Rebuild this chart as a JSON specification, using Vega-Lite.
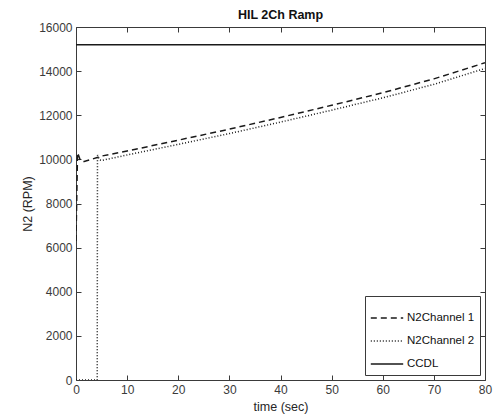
{
  "$schema": "https://vega.github.io/schema/vega-lite/v6.json",
  "autosize": {"type": "none"},
  "padding": {"left": 76, "top": 27, "right": 19, "bottom": 39},
  "width": 409,
  "height": 353,
  "background": "white",
  "config": {
    "font": "Liberation Sans",
    "view": {"stroke": "#3a3a3a", "strokeWidth": 1},
    "axis": {
      "grid": false,
      "domain": false,
      "tickColor": "#3a3a3a",
      "tickSize": -5,
      "labelPadding": 9,
      "labelFlush": false,
      "labelFontSize": 12,
      "labelColor": "#3a3a3a",
      "format": "d",
      "titleFontSize": 12.5,
      "titleFontWeight": "normal",
      "titleColor": "#262626"
    }
  },
  "title": {
    "text": "HIL 2Ch Ramp",
    "fontSize": 12.5,
    "fontWeight": "bold",
    "color": "#111111",
    "offset": 0
  },
  "data": {
    "values": [
      {"t": 0, "rpm": 6300, "series": "N2Channel 1"},
      {"t": 0.3, "rpm": 10300, "series": "N2Channel 1"},
      {"t": 0.55, "rpm": 10150, "series": "N2Channel 1"},
      {"t": 0.9, "rpm": 9920, "series": "N2Channel 1"},
      {"t": 1.6, "rpm": 9900, "series": "N2Channel 1"},
      {"t": 3, "rpm": 10000, "series": "N2Channel 1"},
      {"t": 5, "rpm": 10150, "series": "N2Channel 1"},
      {"t": 10, "rpm": 10380, "series": "N2Channel 1"},
      {"t": 20, "rpm": 10870, "series": "N2Channel 1"},
      {"t": 30, "rpm": 11370, "series": "N2Channel 1"},
      {"t": 40, "rpm": 11900, "series": "N2Channel 1"},
      {"t": 50, "rpm": 12450, "series": "N2Channel 1"},
      {"t": 60, "rpm": 13020, "series": "N2Channel 1"},
      {"t": 70, "rpm": 13650, "series": "N2Channel 1"},
      {"t": 80, "rpm": 14380, "series": "N2Channel 1"},
      {"t": 0, "rpm": 0, "series": "N2Channel 2"},
      {"t": 4.15, "rpm": 0, "series": "N2Channel 2"},
      {"t": 4.2, "rpm": 10200, "series": "N2Channel 2"},
      {"t": 4.6, "rpm": 9980, "series": "N2Channel 2"},
      {"t": 5, "rpm": 9950, "series": "N2Channel 2"},
      {"t": 10, "rpm": 10200, "series": "N2Channel 2"},
      {"t": 20, "rpm": 10680, "series": "N2Channel 2"},
      {"t": 30, "rpm": 11170, "series": "N2Channel 2"},
      {"t": 40, "rpm": 11690, "series": "N2Channel 2"},
      {"t": 50, "rpm": 12230, "series": "N2Channel 2"},
      {"t": 60, "rpm": 12790, "series": "N2Channel 2"},
      {"t": 70, "rpm": 13400, "series": "N2Channel 2"},
      {"t": 80, "rpm": 14120, "series": "N2Channel 2"},
      {"t": 0, "rpm": 15200, "series": "CCDL"},
      {"t": 80, "rpm": 15200, "series": "CCDL"}
    ]
  },
  "layer": [
    {
      "mark": {"type": "line", "strokeWidth": 1.5, "color": "#1a1a1a", "clip": true},
      "encoding": {
        "x": {
          "field": "t",
          "type": "quantitative",
          "scale": {"domain": [0, 80], "nice": false, "zero": false},
          "axis": {"orient": "bottom", "title": "time (sec)", "values": [0, 10, 20, 30, 40, 50, 60, 70, 80], "titlePadding": 5}
        },
        "y": {
          "field": "rpm",
          "type": "quantitative",
          "scale": {"domain": [0, 16000], "nice": false},
          "axis": {"orient": "left", "title": "N2 (RPM)", "values": [0, 2000, 4000, 6000, 8000, 10000, 12000, 14000, 16000], "titlePadding": 4}
        },
        "strokeDash": {
          "field": "series",
          "type": "nominal",
          "scale": {
            "domain": ["N2Channel 1", "N2Channel 2", "CCDL"],
            "range": [[6, 4], [1, 2], [1, 0]]
          },
          "legend": {
            "title": null,
            "orient": "bottom-right",
            "offset": 5,
            "strokeColor": "#3a3a3a",
            "fillColor": "white",
            "padding": 5,
            "symbolType": "stroke",
            "symbolStrokeColor": "#1a1a1a",
            "symbolStrokeWidth": 1.5,
            "symbolSize": 1050,
            "labelFontSize": 11.5,
            "labelColor": "#111111",
            "labelOffset": 3,
            "rowPadding": -12
          }
        },
        "detail": {"field": "series"}
      }
    },
    {
      "mark": {"type": "line", "opacity": 0},
      "encoding": {
        "x": {
          "field": "t",
          "type": "quantitative",
          "axis": {"orient": "top", "title": null, "labels": false, "values": [0, 10, 20, 30, 40, 50, 60, 70, 80]}
        },
        "y": {
          "field": "rpm",
          "type": "quantitative",
          "axis": {"orient": "right", "title": null, "labels": false, "values": [0, 2000, 4000, 6000, 8000, 10000, 12000, 14000, 16000]}
        },
        "detail": {"field": "series"}
      }
    }
  ],
  "resolve": {"axis": {"x": "independent", "y": "independent"}}
}
